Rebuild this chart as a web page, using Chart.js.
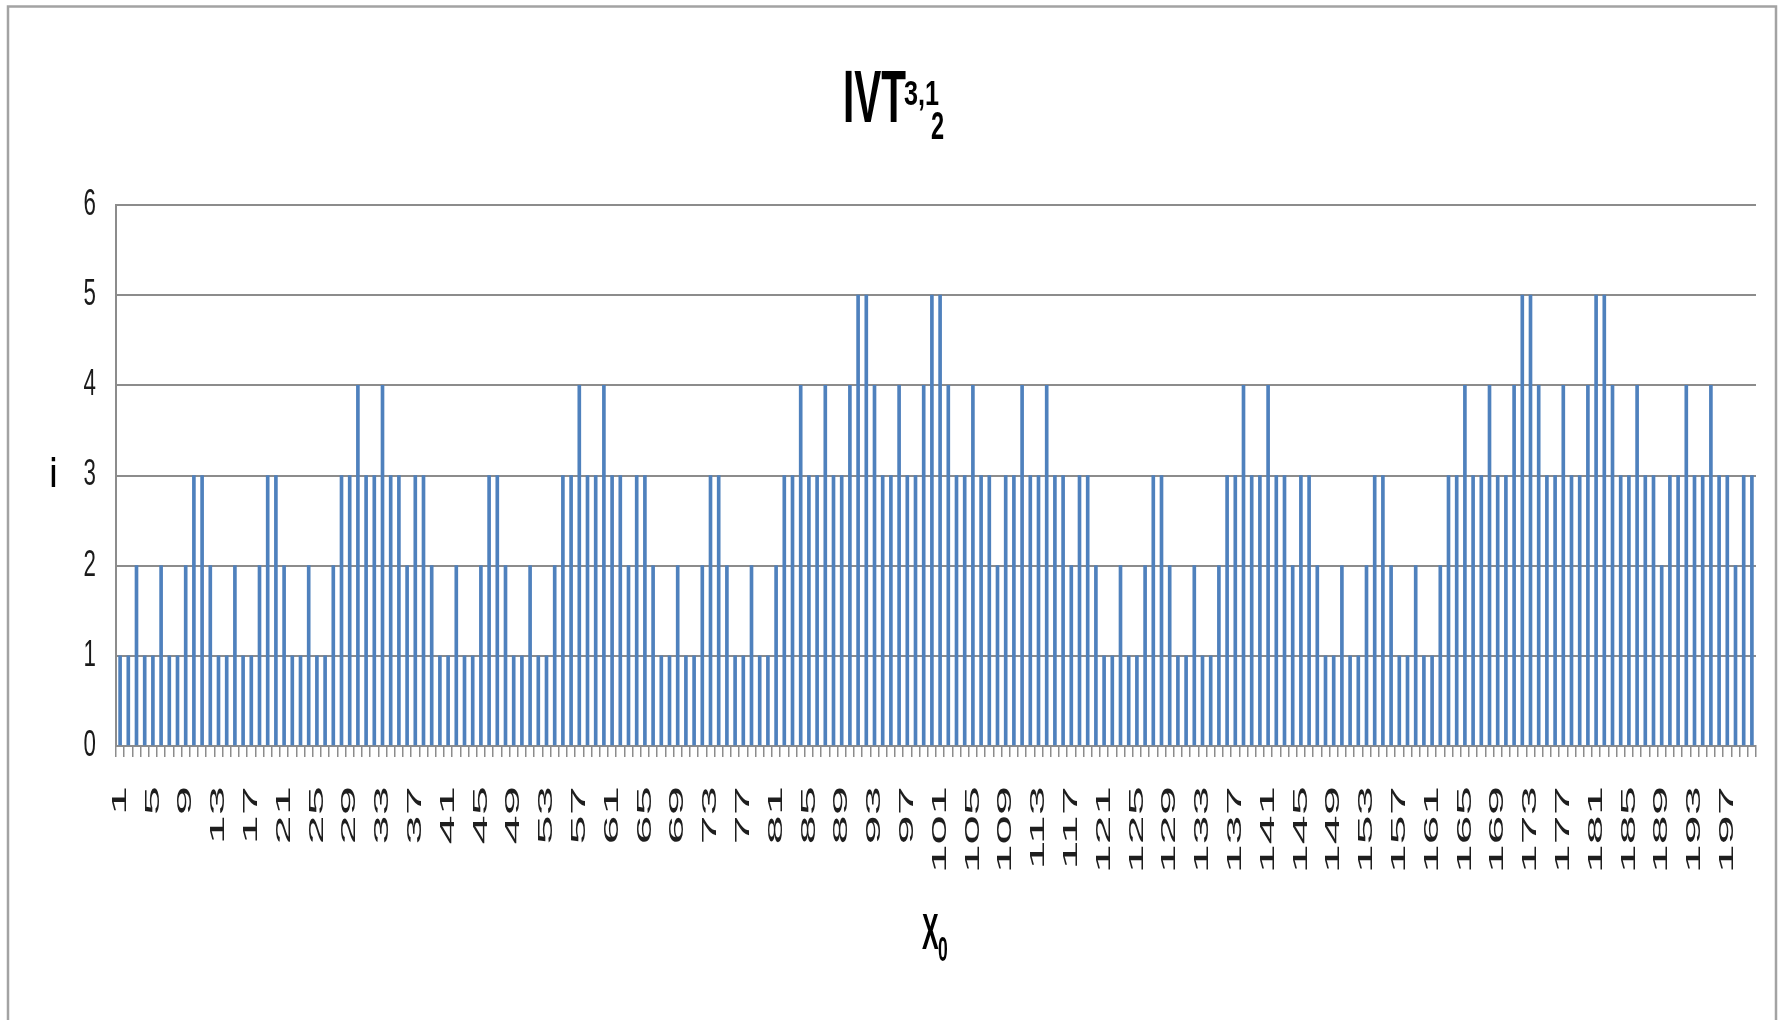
<!DOCTYPE html>
<html>
<head>
<meta charset="utf-8">
<title>IVT 3,1 2</title>
<script src="https://cdn.jsdelivr.net/npm/chart.js@4.4.1/dist/chart.umd.min.js"></script>
<style>
  html, body { margin: 0; padding: 0; background: #fff; }
  canvas { display: block; }
</style>
</head>
<body>
<canvas id="grafico" width="1785" height="1020"></canvas>
<script>
// x0 = 1..200
const categorias = Array.from({ length: 200 }, (_, i) => String(i + 1));

// i para cada x0
const valores = [
  1,1,2,1,1,2,1,1,2,3,3,2,1,1,2,1,1,2,3,3,2,1,1,2,1,
  1,2,3,3,4,3,3,4,3,3,2,3,3,2,1,1,2,1,1,2,3,3,2,1,1,
  2,1,1,2,3,3,4,3,3,4,3,3,2,3,3,2,1,1,2,1,1,2,3,3,2,
  1,1,2,1,1,2,3,3,4,3,3,4,3,3,4,5,5,4,3,3,4,3,3,4,5,
  5,4,3,3,4,3,3,2,3,3,4,3,3,4,3,3,2,3,3,2,1,1,2,1,1,
  2,3,3,2,1,1,2,1,1,2,3,3,4,3,3,4,3,3,2,3,3,2,1,1,2,
  1,1,2,3,3,2,1,1,2,1,1,2,3,3,4,3,3,4,3,3,4,5,5,4,3,
  3,4,3,3,4,5,5,4,3,3,4,3,3,2,3,3,4,3,3,4,3,3,2,3,3
];

const passoRotulo = 4;   // só 1, 5, 9, ... aparecem no eixo
const yMin = 0, yMax = 6;

const COR_BARRA = "#4F81BD";
const COR_GRADE = "#8c8c8c";
const FONTE = '"Liberation Sans", Arial, sans-serif';

const PAD_X = 29, TICK_X = 11, PAD_Y = 20;

// texto "achatado" na horizontal, como no original
function textoEstreito(ctx, txt, x, y, fonte, sx) {
  ctx.save();
  ctx.translate(x, y);
  ctx.scale(sx, 1);
  ctx.font = fonte;
  ctx.textAlign = "left";
  ctx.textBaseline = "alphabetic";
  ctx.fillStyle = "#000";
  ctx.fillText(txt, 0, 0);
  ctx.restore();
}

// deforma os rótulos de uma escala em volta de um ponto fixo
function esticarRotulos(escala, sx, sy, px, py) {
  if (escala._esticado) return;
  const original = escala.drawLabels.bind(escala);
  escala.drawLabels = function (area) {
    const ctx = this.ctx, x0 = px(this), y0 = py(this);
    ctx.save();
    ctx.translate(x0, y0);
    ctx.scale(sx, sy);
    ctx.translate(-x0, -y0);
    original(area);
    ctx.restore();
  };
  escala._esticado = true;
}

const pluginTextos = {
  id: "textos",
  beforeDraw(chart) {
    const ctx = chart.ctx;
    ctx.save();
    ctx.strokeStyle = "#a3a3a3";
    ctx.lineWidth = 2.5;
    ctx.strokeRect(8, 6.5, 1768, 1100);
    ctx.restore();

    esticarRotulos(chart.scales.y, 0.62, 1, (s) => s.right - PAD_Y, () => 0);
    esticarRotulos(chart.scales.x, 1, 2.5, () => 0, (s) => s.top + TICK_X + PAD_X);
  },
  afterDraw(chart) {
    const ctx = chart.ctx;
    // título IVT^{3,1}_2
    textoEstreito(ctx, "IVT", 843, 122, `bold 75px ${FONTE}`, 0.54);
    textoEstreito(ctx, "3,1", 904, 105, `bold 35px ${FONTE}`, 0.72);
    textoEstreito(ctx, "2", 931, 139, `bold 38px ${FONTE}`, 0.62);
    // eixo x: X_0
    textoEstreito(ctx, "X", 922, 949, `bold 50px ${FONTE}`, 0.5);
    textoEstreito(ctx, "0", 938, 961, `bold 35px ${FONTE}`, 0.5);
    // eixo y: i
    textoEstreito(ctx, "i", 50, 487, `bold 40px ${FONTE}`, 0.62);
  }
};

new Chart(document.getElementById("grafico"), {
  type: "bar",
  data: {
    labels: categorias,
    datasets: [{ data: valores, backgroundColor: COR_BARRA, barThickness: 3 }]
  },
  options: {
    responsive: false,
    animation: false,
    devicePixelRatio: 1,
    layout: { padding: { left: 0, right: 29, top: 205, bottom: 0 } },
    plugins: {
      legend: { display: false },
      tooltip: { enabled: false },
      title: { display: false }
    },
    scales: {
      x: {
        grid: { offset: true, drawOnChartArea: false, drawTicks: true, tickLength: TICK_X, color: COR_GRADE, lineWidth: 1.5 },
        border: { color: COR_GRADE, width: 2 },
        ticks: {
          autoSkip: false,
          minRotation: 90,
          maxRotation: 90,
          padding: PAD_X,
          color: "#1e1e1e",
          font: { family: FONTE, size: 21 },
          callback(v, i) { return i % passoRotulo === 0 ? categorias[i] : ""; }
        },
        afterFit(s) { s.height = 274; s.paddingLeft = 0; s.paddingRight = 0; }
      },
      y: {
        min: yMin,
        max: yMax,
        grid: { color: COR_GRADE, lineWidth: 2, drawTicks: false },
        border: { color: COR_GRADE, width: 2 },
        ticks: {
          stepSize: 1,
          padding: PAD_Y,
          color: "#1a1a1a",
          font: { family: FONTE, size: 36 }
        },
        afterFit(s) { s.width = 116; }
      }
    }
  },
  plugins: [pluginTextos]
});
</script>
</body>
</html>
